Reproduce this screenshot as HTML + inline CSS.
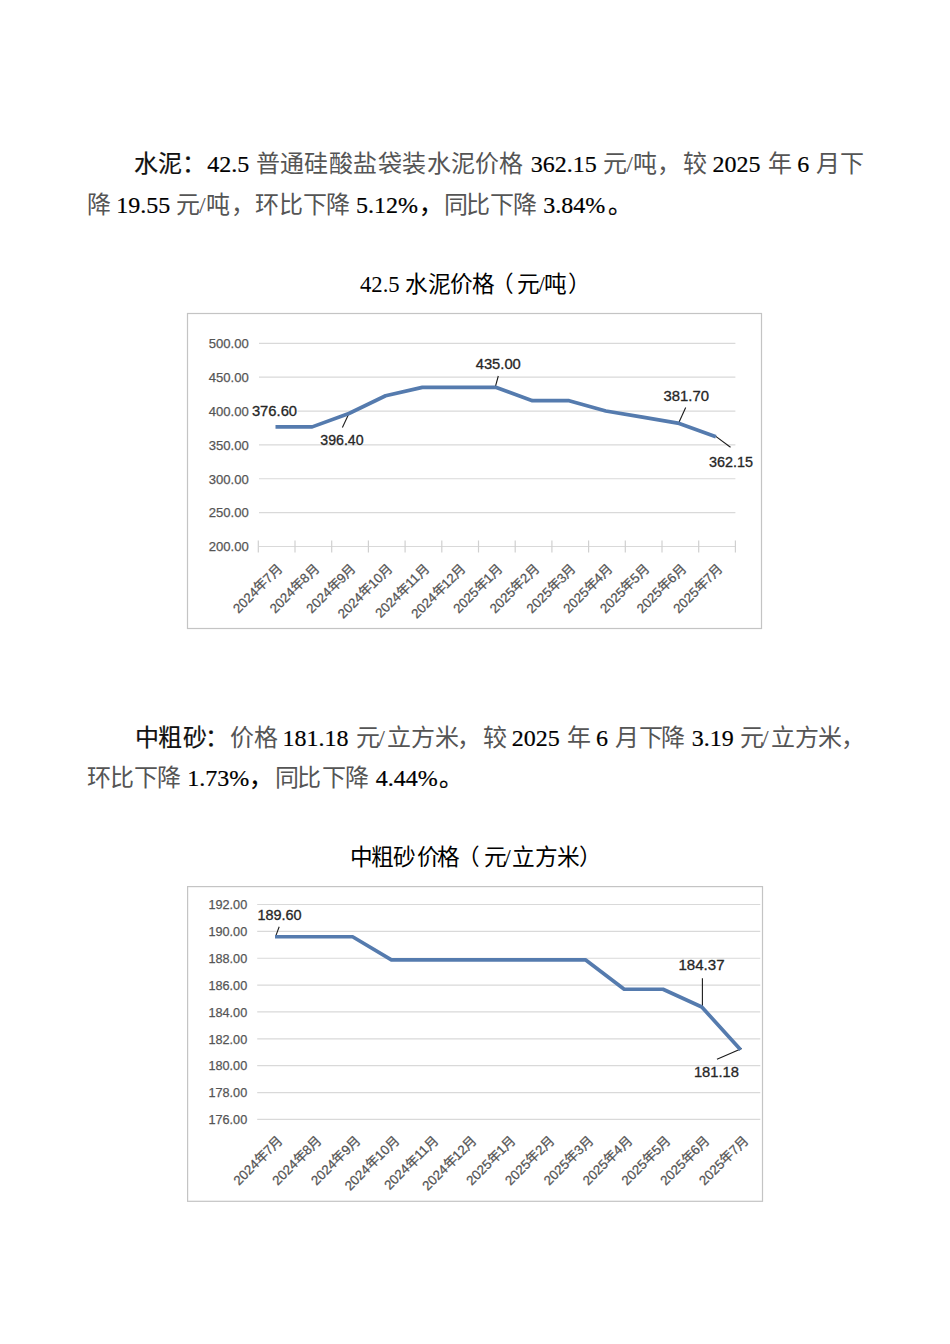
<!DOCTYPE html>
<html lang="zh-CN"><head><meta charset="utf-8"><style>
html,body{margin:0;padding:0;background:#fff;width:950px;height:1344px;overflow:hidden}
svg{position:absolute;left:0;top:0}
</style></head><body>
<svg width="950" height="1344" viewBox="0 0 950 1344">
<text x="133.6 157.8 182.0" y="172" font-family="Liberation Serif" font-size="24" fill="#111" stroke="#111" stroke-width="0.2">水泥：</text>
<text x="207.3" y="172" font-family="Liberation Serif" font-size="24" fill="#000" stroke="#000" stroke-width="0.2">42.5</text>
<text x="255.9 279.5 304.0 328.5 353.0 377.7 402.3 426.9 450.5 475.3 498.9" y="172" font-family="Liberation Serif" font-size="24" fill="#555">普通硅酸盐袋装水泥价格</text>
<text x="530.7" y="172" font-family="Liberation Serif" font-size="24" fill="#000" stroke="#000" stroke-width="0.2">362.15</text>
<text x="602.5 626.3 633.0 656.8" y="172" font-family="Liberation Serif" font-size="24" fill="#555">元/吨，</text>
<text x="682.5" y="172" font-family="Liberation Serif" font-size="24" fill="#555">较</text>
<text x="712.5" y="172" font-family="Liberation Serif" font-size="24" fill="#000" stroke="#000" stroke-width="0.2">2025</text>
<text x="767.5" y="172" font-family="Liberation Serif" font-size="24" fill="#555">年</text>
<text x="797.2" y="172" font-family="Liberation Serif" font-size="24" fill="#000" stroke="#000" stroke-width="0.2">6</text>
<text x="816.0 840.0" y="172" font-family="Liberation Serif" font-size="24" fill="#555">月下</text>
<text x="86.5" y="212.5" font-family="Liberation Serif" font-size="24" fill="#555">降</text>
<text x="116.2" y="212.5" font-family="Liberation Serif" font-size="24" fill="#000" stroke="#000" stroke-width="0.2">19.55</text>
<text x="175.8 199.0 206.1 230.7" y="212.5" font-family="Liberation Serif" font-size="24" fill="#555">元/吨，</text>
<text x="255.0 279.2 303.0 326.1" y="212.5" font-family="Liberation Serif" font-size="24" fill="#555">环比下降</text>
<text x="356.0" y="212.5" font-family="Liberation Serif" font-size="24" fill="#000" stroke="#000" stroke-width="0.2">5.12%</text>
<text x="418.5" y="212.5" font-family="Liberation Serif" font-size="24" fill="#000" stroke="#000" stroke-width="0.2">，</text>
<text x="443.6 466.4 490.1 513.3" y="212.5" font-family="Liberation Serif" font-size="24" fill="#555">同比下降</text>
<text x="543.2" y="212.5" font-family="Liberation Serif" font-size="24" fill="#000" stroke="#000" stroke-width="0.2">3.84%</text>
<text x="607.6" y="212.5" font-family="Liberation Serif" font-size="24" fill="#000" stroke="#000" stroke-width="0.2">。</text>
<text x="135.1 158.3 182.9 204.6" y="745.5" font-family="Liberation Serif" font-size="24" fill="#111" stroke="#111" stroke-width="0.2">中粗砂：</text>
<text x="230.3 254.0" y="745.5" font-family="Liberation Serif" font-size="24" fill="#555">价格</text>
<text x="282.4" y="745.5" font-family="Liberation Serif" font-size="24" fill="#000" stroke="#000" stroke-width="0.2">181.18</text>
<text x="356.3 378.2" y="745.5" font-family="Liberation Serif" font-size="24" fill="#555">元/</text>
<text x="387.0 411.3 435.4 456.7" y="745.5" font-family="Liberation Serif" font-size="24" fill="#555">立方米，</text>
<text x="482.8" y="745.5" font-family="Liberation Serif" font-size="24" fill="#555">较</text>
<text x="511.7" y="745.5" font-family="Liberation Serif" font-size="24" fill="#000" stroke="#000" stroke-width="0.2">2025</text>
<text x="567.0" y="745.5" font-family="Liberation Serif" font-size="24" fill="#555">年</text>
<text x="596.0" y="745.5" font-family="Liberation Serif" font-size="24" fill="#000" stroke="#000" stroke-width="0.2">6</text>
<text x="614.6 638.6 661.3" y="745.5" font-family="Liberation Serif" font-size="24" fill="#555">月下降</text>
<text x="691.7" y="745.5" font-family="Liberation Serif" font-size="24" fill="#000" stroke="#000" stroke-width="0.2">3.19</text>
<text x="740.0 761.9 771.3 794.5 818.2 841.3" y="745.5" font-family="Liberation Serif" font-size="24" fill="#555">元/立方米，</text>
<text x="86.8 110.4 134.2 157.3" y="785.5" font-family="Liberation Serif" font-size="24" fill="#555">环比下降</text>
<text x="187.2" y="785.5" font-family="Liberation Serif" font-size="24" fill="#000" stroke="#000" stroke-width="0.2">1.73%</text>
<text x="248.7" y="785.5" font-family="Liberation Serif" font-size="24" fill="#000" stroke="#000" stroke-width="0.2">，</text>
<text x="275.3 297.0 321.7 344.9" y="785.5" font-family="Liberation Serif" font-size="24" fill="#555">同比下降</text>
<text x="375.8" y="785.5" font-family="Liberation Serif" font-size="24" fill="#000" stroke="#000" stroke-width="0.2">4.44%</text>
<text x="439.3" y="785.5" font-family="Liberation Serif" font-size="24" fill="#000" stroke="#000" stroke-width="0.2">。</text>
<text x="360" y="291.7" font-family="Liberation Serif" font-size="22.7" fill="#000">42.5</text>
<text x="405 427.7 450.4 472 491.4 517.1 538.5 544.2 567.5" y="291.7" font-family="Liberation Serif" font-size="22.7" fill="#000">水泥价格（元/吨）</text>
<text x="350 370.5 393 416.5 437 457 484 504.5 511.5 534.5 556.5 579" y="864.7" font-family="Liberation Serif" font-size="22.7" fill="#000">中粗砂价格（元/立方米）</text>
<rect x="187.5" y="313.5" width="574.0" height="315.0" fill="#fff" stroke="#C4C4C4" stroke-width="1.2"/>
<line x1="259" y1="343.30" x2="735.4" y2="343.30" stroke="#D9D9D9" stroke-width="1.2"/>
<text x="248.8" y="348.10" textLength="40" lengthAdjust="spacingAndGlyphs" font-family="Liberation Sans" font-size="13.5" fill="#555" stroke="#555" stroke-width="0.25" text-anchor="end">500.00</text>
<line x1="259" y1="377.17" x2="735.4" y2="377.17" stroke="#D9D9D9" stroke-width="1.2"/>
<text x="248.8" y="381.97" textLength="40" lengthAdjust="spacingAndGlyphs" font-family="Liberation Sans" font-size="13.5" fill="#555" stroke="#555" stroke-width="0.25" text-anchor="end">450.00</text>
<line x1="259" y1="411.03" x2="735.4" y2="411.03" stroke="#D9D9D9" stroke-width="1.2"/>
<text x="248.8" y="415.83" textLength="40" lengthAdjust="spacingAndGlyphs" font-family="Liberation Sans" font-size="13.5" fill="#555" stroke="#555" stroke-width="0.25" text-anchor="end">400.00</text>
<line x1="259" y1="444.90" x2="735.4" y2="444.90" stroke="#D9D9D9" stroke-width="1.2"/>
<text x="248.8" y="449.70" textLength="40" lengthAdjust="spacingAndGlyphs" font-family="Liberation Sans" font-size="13.5" fill="#555" stroke="#555" stroke-width="0.25" text-anchor="end">350.00</text>
<line x1="259" y1="478.77" x2="735.4" y2="478.77" stroke="#D9D9D9" stroke-width="1.2"/>
<text x="248.8" y="483.57" textLength="40" lengthAdjust="spacingAndGlyphs" font-family="Liberation Sans" font-size="13.5" fill="#555" stroke="#555" stroke-width="0.25" text-anchor="end">300.00</text>
<line x1="259" y1="512.63" x2="735.4" y2="512.63" stroke="#D9D9D9" stroke-width="1.2"/>
<text x="248.8" y="517.43" textLength="40" lengthAdjust="spacingAndGlyphs" font-family="Liberation Sans" font-size="13.5" fill="#555" stroke="#555" stroke-width="0.25" text-anchor="end">250.00</text>
<line x1="259" y1="546.50" x2="735.4" y2="546.50" stroke="#D9D9D9" stroke-width="1.2"/>
<text x="248.8" y="551.30" textLength="40" lengthAdjust="spacingAndGlyphs" font-family="Liberation Sans" font-size="13.5" fill="#555" stroke="#555" stroke-width="0.25" text-anchor="end">200.00</text>
<line x1="258.30" y1="540.5" x2="258.30" y2="552.5" stroke="#D0D0D0" stroke-width="1.2"/>
<line x1="295.00" y1="540.5" x2="295.00" y2="552.5" stroke="#D0D0D0" stroke-width="1.2"/>
<line x1="331.70" y1="540.5" x2="331.70" y2="552.5" stroke="#D0D0D0" stroke-width="1.2"/>
<line x1="368.40" y1="540.5" x2="368.40" y2="552.5" stroke="#D0D0D0" stroke-width="1.2"/>
<line x1="405.10" y1="540.5" x2="405.10" y2="552.5" stroke="#D0D0D0" stroke-width="1.2"/>
<line x1="441.80" y1="540.5" x2="441.80" y2="552.5" stroke="#D0D0D0" stroke-width="1.2"/>
<line x1="478.50" y1="540.5" x2="478.50" y2="552.5" stroke="#D0D0D0" stroke-width="1.2"/>
<line x1="515.20" y1="540.5" x2="515.20" y2="552.5" stroke="#D0D0D0" stroke-width="1.2"/>
<line x1="551.90" y1="540.5" x2="551.90" y2="552.5" stroke="#D0D0D0" stroke-width="1.2"/>
<line x1="588.60" y1="540.5" x2="588.60" y2="552.5" stroke="#D0D0D0" stroke-width="1.2"/>
<line x1="625.30" y1="540.5" x2="625.30" y2="552.5" stroke="#D0D0D0" stroke-width="1.2"/>
<line x1="662.00" y1="540.5" x2="662.00" y2="552.5" stroke="#D0D0D0" stroke-width="1.2"/>
<line x1="698.70" y1="540.5" x2="698.70" y2="552.5" stroke="#D0D0D0" stroke-width="1.2"/>
<line x1="735.40" y1="540.5" x2="735.40" y2="552.5" stroke="#D0D0D0" stroke-width="1.2"/>
<text transform="translate(283.00,569.50) rotate(-45)" font-family="Liberation Sans" font-size="13.3" fill="#555" stroke="#555" stroke-width="0.25" text-anchor="end">2024年7月</text>
<text transform="translate(319.70,569.50) rotate(-45)" font-family="Liberation Sans" font-size="13.3" fill="#555" stroke="#555" stroke-width="0.25" text-anchor="end">2024年8月</text>
<text transform="translate(356.40,569.50) rotate(-45)" font-family="Liberation Sans" font-size="13.3" fill="#555" stroke="#555" stroke-width="0.25" text-anchor="end">2024年9月</text>
<text transform="translate(393.10,569.50) rotate(-45)" font-family="Liberation Sans" font-size="13.3" fill="#555" stroke="#555" stroke-width="0.25" text-anchor="end">2024年10月</text>
<text transform="translate(429.80,569.50) rotate(-45)" font-family="Liberation Sans" font-size="13.3" fill="#555" stroke="#555" stroke-width="0.25" text-anchor="end">2024年11月</text>
<text transform="translate(466.50,569.50) rotate(-45)" font-family="Liberation Sans" font-size="13.3" fill="#555" stroke="#555" stroke-width="0.25" text-anchor="end">2024年12月</text>
<text transform="translate(503.20,569.50) rotate(-45)" font-family="Liberation Sans" font-size="13.3" fill="#555" stroke="#555" stroke-width="0.25" text-anchor="end">2025年1月</text>
<text transform="translate(539.90,569.50) rotate(-45)" font-family="Liberation Sans" font-size="13.3" fill="#555" stroke="#555" stroke-width="0.25" text-anchor="end">2025年2月</text>
<text transform="translate(576.60,569.50) rotate(-45)" font-family="Liberation Sans" font-size="13.3" fill="#555" stroke="#555" stroke-width="0.25" text-anchor="end">2025年3月</text>
<text transform="translate(613.30,569.50) rotate(-45)" font-family="Liberation Sans" font-size="13.3" fill="#555" stroke="#555" stroke-width="0.25" text-anchor="end">2025年4月</text>
<text transform="translate(650.00,569.50) rotate(-45)" font-family="Liberation Sans" font-size="13.3" fill="#555" stroke="#555" stroke-width="0.25" text-anchor="end">2025年5月</text>
<text transform="translate(686.70,569.50) rotate(-45)" font-family="Liberation Sans" font-size="13.3" fill="#555" stroke="#555" stroke-width="0.25" text-anchor="end">2025年6月</text>
<text transform="translate(723.40,569.50) rotate(-45)" font-family="Liberation Sans" font-size="13.3" fill="#555" stroke="#555" stroke-width="0.25" text-anchor="end">2025年7月</text>
<line x1="349.3" y1="412.8" x2="342.4" y2="427.6" stroke="#1a1a1a" stroke-width="1.1"/>
<line x1="498.3" y1="376" x2="495.3" y2="386.8" stroke="#1a1a1a" stroke-width="1.1"/>
<line x1="685.7" y1="407.5" x2="679" y2="422.2" stroke="#1a1a1a" stroke-width="1.1"/>
<line x1="715.8" y1="436.4" x2="730.5" y2="447.3" stroke="#1a1a1a" stroke-width="1.1"/>
<polyline points="275.50,426.88 312.20,426.88 348.90,413.47 385.60,395.79 422.30,387.33 459.00,387.33 495.70,387.33 532.40,400.67 569.10,400.67 605.80,411.03 642.50,417.13 679.20,423.43 715.90,436.67" fill="none" stroke="#557BAE" stroke-width="3.7" stroke-linejoin="round" stroke-linecap="butt"/>
<rect x="251.6" y="405.6" width="45.900000000000006" height="11.5" fill="#fff"/>
<text x="251.90" y="416.40" font-family="Liberation Sans" font-size="14.5" fill="#262626" stroke="#262626" stroke-width="0.3" textLength="45.20" lengthAdjust="spacingAndGlyphs">376.60</text>
<text x="320.30" y="445.10" font-family="Liberation Sans" font-size="14.5" fill="#262626" stroke="#262626" stroke-width="0.3" textLength="43.30" lengthAdjust="spacingAndGlyphs">396.40</text>
<text x="475.70" y="368.50" font-family="Liberation Sans" font-size="14.5" fill="#262626" stroke="#262626" stroke-width="0.3" textLength="45.10" lengthAdjust="spacingAndGlyphs">435.00</text>
<text x="663.50" y="401.00" font-family="Liberation Sans" font-size="14.5" fill="#262626" stroke="#262626" stroke-width="0.3" textLength="45.50" lengthAdjust="spacingAndGlyphs">381.70</text>
<text x="709.10" y="466.70" font-family="Liberation Sans" font-size="14.5" fill="#262626" stroke="#262626" stroke-width="0.3" textLength="44.00" lengthAdjust="spacingAndGlyphs">362.15</text>
<rect x="187.6" y="886.6" width="574.9" height="314.69999999999993" fill="#fff" stroke="#C4C4C4" stroke-width="1.2"/>
<line x1="257.2" y1="904.50" x2="760.3" y2="904.50" stroke="#D9D9D9" stroke-width="1.2"/>
<text x="247.2" y="909.30" textLength="38.8" lengthAdjust="spacingAndGlyphs" font-family="Liberation Sans" font-size="13.5" fill="#555" stroke="#555" stroke-width="0.25" text-anchor="end">192.00</text>
<line x1="257.2" y1="931.36" x2="760.3" y2="931.36" stroke="#D9D9D9" stroke-width="1.2"/>
<text x="247.2" y="936.16" textLength="38.8" lengthAdjust="spacingAndGlyphs" font-family="Liberation Sans" font-size="13.5" fill="#555" stroke="#555" stroke-width="0.25" text-anchor="end">190.00</text>
<line x1="257.2" y1="958.23" x2="760.3" y2="958.23" stroke="#D9D9D9" stroke-width="1.2"/>
<text x="247.2" y="963.02" textLength="38.8" lengthAdjust="spacingAndGlyphs" font-family="Liberation Sans" font-size="13.5" fill="#555" stroke="#555" stroke-width="0.25" text-anchor="end">188.00</text>
<line x1="257.2" y1="985.09" x2="760.3" y2="985.09" stroke="#D9D9D9" stroke-width="1.2"/>
<text x="247.2" y="989.89" textLength="38.8" lengthAdjust="spacingAndGlyphs" font-family="Liberation Sans" font-size="13.5" fill="#555" stroke="#555" stroke-width="0.25" text-anchor="end">186.00</text>
<line x1="257.2" y1="1011.95" x2="760.3" y2="1011.95" stroke="#D9D9D9" stroke-width="1.2"/>
<text x="247.2" y="1016.75" textLength="38.8" lengthAdjust="spacingAndGlyphs" font-family="Liberation Sans" font-size="13.5" fill="#555" stroke="#555" stroke-width="0.25" text-anchor="end">184.00</text>
<line x1="257.2" y1="1038.81" x2="760.3" y2="1038.81" stroke="#D9D9D9" stroke-width="1.2"/>
<text x="247.2" y="1043.61" textLength="38.8" lengthAdjust="spacingAndGlyphs" font-family="Liberation Sans" font-size="13.5" fill="#555" stroke="#555" stroke-width="0.25" text-anchor="end">182.00</text>
<line x1="257.2" y1="1065.68" x2="760.3" y2="1065.68" stroke="#D9D9D9" stroke-width="1.2"/>
<text x="247.2" y="1070.48" textLength="38.8" lengthAdjust="spacingAndGlyphs" font-family="Liberation Sans" font-size="13.5" fill="#555" stroke="#555" stroke-width="0.25" text-anchor="end">180.00</text>
<line x1="257.2" y1="1092.54" x2="760.3" y2="1092.54" stroke="#D9D9D9" stroke-width="1.2"/>
<text x="247.2" y="1097.34" textLength="38.8" lengthAdjust="spacingAndGlyphs" font-family="Liberation Sans" font-size="13.5" fill="#555" stroke="#555" stroke-width="0.25" text-anchor="end">178.00</text>
<line x1="257.2" y1="1119.40" x2="760.3" y2="1119.40" stroke="#D9D9D9" stroke-width="1.2"/>
<text x="247.2" y="1124.20" textLength="38.8" lengthAdjust="spacingAndGlyphs" font-family="Liberation Sans" font-size="13.5" fill="#555" stroke="#555" stroke-width="0.25" text-anchor="end">176.00</text>
<text transform="translate(283.50,1141.40) rotate(-45)" font-family="Liberation Sans" font-size="13.3" fill="#555" stroke="#555" stroke-width="0.25" text-anchor="end">2024年7月</text>
<text transform="translate(322.30,1141.40) rotate(-45)" font-family="Liberation Sans" font-size="13.3" fill="#555" stroke="#555" stroke-width="0.25" text-anchor="end">2024年8月</text>
<text transform="translate(361.10,1141.40) rotate(-45)" font-family="Liberation Sans" font-size="13.3" fill="#555" stroke="#555" stroke-width="0.25" text-anchor="end">2024年9月</text>
<text transform="translate(399.90,1141.40) rotate(-45)" font-family="Liberation Sans" font-size="13.3" fill="#555" stroke="#555" stroke-width="0.25" text-anchor="end">2024年10月</text>
<text transform="translate(438.70,1141.40) rotate(-45)" font-family="Liberation Sans" font-size="13.3" fill="#555" stroke="#555" stroke-width="0.25" text-anchor="end">2024年11月</text>
<text transform="translate(477.50,1141.40) rotate(-45)" font-family="Liberation Sans" font-size="13.3" fill="#555" stroke="#555" stroke-width="0.25" text-anchor="end">2024年12月</text>
<text transform="translate(516.30,1141.40) rotate(-45)" font-family="Liberation Sans" font-size="13.3" fill="#555" stroke="#555" stroke-width="0.25" text-anchor="end">2025年1月</text>
<text transform="translate(555.10,1141.40) rotate(-45)" font-family="Liberation Sans" font-size="13.3" fill="#555" stroke="#555" stroke-width="0.25" text-anchor="end">2025年2月</text>
<text transform="translate(593.90,1141.40) rotate(-45)" font-family="Liberation Sans" font-size="13.3" fill="#555" stroke="#555" stroke-width="0.25" text-anchor="end">2025年3月</text>
<text transform="translate(632.70,1141.40) rotate(-45)" font-family="Liberation Sans" font-size="13.3" fill="#555" stroke="#555" stroke-width="0.25" text-anchor="end">2025年4月</text>
<text transform="translate(671.50,1141.40) rotate(-45)" font-family="Liberation Sans" font-size="13.3" fill="#555" stroke="#555" stroke-width="0.25" text-anchor="end">2025年5月</text>
<text transform="translate(710.30,1141.40) rotate(-45)" font-family="Liberation Sans" font-size="13.3" fill="#555" stroke="#555" stroke-width="0.25" text-anchor="end">2025年6月</text>
<text transform="translate(749.10,1141.40) rotate(-45)" font-family="Liberation Sans" font-size="13.3" fill="#555" stroke="#555" stroke-width="0.25" text-anchor="end">2025年7月</text>
<line x1="279.2" y1="926.8" x2="276" y2="935.4" stroke="#1a1a1a" stroke-width="1.1"/>
<line x1="702.4" y1="978.2" x2="702.4" y2="1007.2" stroke="#1a1a1a" stroke-width="1.1"/>
<line x1="717" y1="1059.3" x2="741.8" y2="1048.4" stroke="#1a1a1a" stroke-width="1.1"/>
<polyline points="275.00,936.74 313.80,936.74 352.60,936.74 391.40,959.84 430.20,959.84 469.00,959.84 507.80,959.84 546.60,959.84 585.40,959.84 624.20,989.25 663.00,989.25 701.80,1006.98 740.60,1049.83" fill="none" stroke="#557BAE" stroke-width="3.7" stroke-linejoin="round" stroke-linecap="butt"/>
<text x="257.40" y="919.50" font-family="Liberation Sans" font-size="14.5" fill="#262626" stroke="#262626" stroke-width="0.3" textLength="44.20" lengthAdjust="spacingAndGlyphs">189.60</text>
<text x="678.40" y="970.40" font-family="Liberation Sans" font-size="14.5" fill="#262626" stroke="#262626" stroke-width="0.3" textLength="46.20" lengthAdjust="spacingAndGlyphs">184.37</text>
<text x="693.90" y="1076.90" font-family="Liberation Sans" font-size="14.5" fill="#262626" stroke="#262626" stroke-width="0.3" textLength="45.00" lengthAdjust="spacingAndGlyphs">181.18</text>
</svg>
</body></html>
